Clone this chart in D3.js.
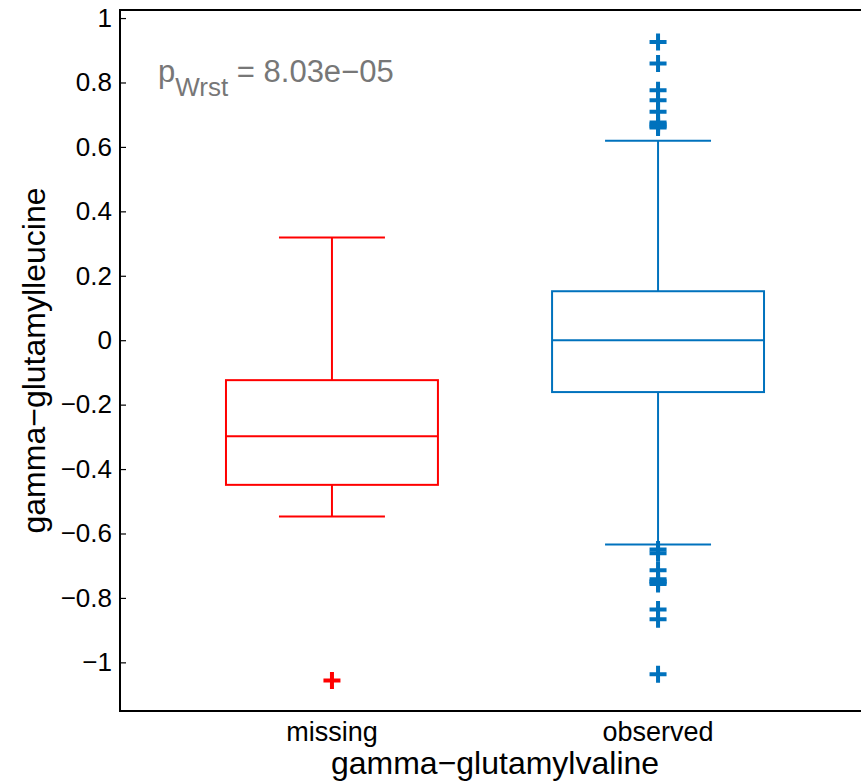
<!DOCTYPE html>
<html><head><meta charset="utf-8">
<script src="https://cdn.jsdelivr.net/npm/d3@7"></script>
<style>body{margin:0;background:#fff}svg{display:block}text{font-family:"Liberation Sans",Arial,Helvetica,sans-serif}</style>
</head><body><svg id="c" width="861" height="784"></svg>
<script>
const categories = ["missing", "observed"];
const colors = ["#ff0000", "#0072bd"];
// box stats: [lowerWhisker, q1, median, q3, upperWhisker]
const missingStats = [-0.547, -0.449, -0.298, -0.124, 0.319];
const observedStats = [-0.634, -0.161, 0.0, 0.152, 0.619];
const missingOutliers = [-1.056];
const observedOutliers = [0.926, 0.859, 0.776, 0.745, 0.709, 0.676, 0.670, 0.664, 0.660,
  -0.650, -0.661, -0.714, -0.742, -0.748, -0.752, -0.757, -0.836, -0.866, -1.037];
const yTicks = [-1, -0.8, -0.6, -0.4, -0.2, 0, 0.2, 0.4, 0.6, 0.8, 1];
const xLabel = "gamma\u2212glutamylvaline";
const yLabel = "gamma\u2212glutamylleucine";
const pText = "= 8.03e\u221205";

const svg = d3.select("#c");
const L = 120, R = 870, T = 10, B = 711;
const x = d3.scaleLinear().domain([0.35, 2.65]).range([L, R]);
const y = d3.scaleLinear().domain([-1.151, 1.025]).range([B, T]);

const groups = [
  {name: categories[0], s: missingStats, out: missingOutliers, c: colors[0], pos: 1},
  {name: categories[1], s: observedStats, out: observedOutliers, c: colors[1], pos: 2}
];
const boxW = 0.65, capW = 0.325;

const g = svg.append("g");
groups.forEach(d => {
  const [lw, q1, md, q3, uw] = d.s;
  const gg = g.append("g").attr("stroke", d.c).attr("stroke-width", 2).attr("fill", "none");
  gg.append("line").attr("x1", x(d.pos)).attr("x2", x(d.pos)).attr("y1", y(uw)).attr("y2", y(q3));
  gg.append("line").attr("x1", x(d.pos)).attr("x2", x(d.pos)).attr("y1", y(q1)).attr("y2", y(lw));
  gg.append("line").attr("x1", x(d.pos - capW/2)).attr("x2", x(d.pos + capW/2)).attr("y1", y(uw)).attr("y2", y(uw));
  gg.append("line").attr("x1", x(d.pos - capW/2)).attr("x2", x(d.pos + capW/2)).attr("y1", y(lw)).attr("y2", y(lw));
  gg.append("rect").attr("x", x(d.pos - boxW/2)).attr("y", y(q3))
    .attr("width", x(d.pos + boxW/2) - x(d.pos - boxW/2)).attr("height", y(q1) - y(q3));
  gg.append("line").attr("x1", x(d.pos - boxW/2)).attr("x2", x(d.pos + boxW/2)).attr("y1", y(md)).attr("y2", y(md));
  gg.selectAll("path.o").data(d.out).join("path")
    .attr("transform", v => `translate(${x(d.pos)},${y(v)})`)
    .attr("d", "M-8.5,0H8.5M0,-8.5V8.5").attr("stroke-width", 4);
});

// axes frame
const yAxis = d3.axisLeft(y).tickValues(yTicks).tickSize(-6).tickPadding(8)
  .tickFormat(v => (v < 0 ? "\u2212" : "") + d3.format("")(Math.abs(v)));
const ya = svg.append("g").attr("transform", `translate(${L},0)`).call(yAxis);
ya.select(".domain").remove();
ya.selectAll(".tick line").attr("stroke", "#000").attr("stroke-width", 1.2);
ya.selectAll(".tick text").attr("font-size", 26).attr("fill", "#000");

svg.append("path").attr("d", `M${R},${T}H${L}V${B}H${R}`).attr("fill", "none")
  .attr("stroke", "#000").attr("stroke-width", 2);

// category labels
svg.selectAll("text.cat").data(groups).join("text").attr("class", "cat")
  .attr("x", d => x(d.pos)).attr("y", 741).attr("text-anchor", "middle")
  .attr("font-size", 27).attr("fill", "#000").text(d => d.name);

svg.append("text").attr("x", (x(1) + x(2)) / 2).attr("y", 774).attr("text-anchor", "middle")
  .attr("font-size", 32).attr("fill", "#000").text(xLabel);
svg.append("text").attr("transform", `translate(45,${(T + B) / 2}) rotate(-90)`).attr("text-anchor", "middle")
  .attr("font-size", 32).attr("fill", "#000").text(yLabel);

const pt = svg.append("text").attr("x", 158).attr("y", 82).attr("font-size", 31).attr("fill", "#777");
pt.append("tspan").text("p");
pt.append("tspan").attr("font-size", 26).attr("dy", 14).text("Wrst");
pt.append("tspan").attr("dy", -14).text(" " + pText);
</script></body></html>
